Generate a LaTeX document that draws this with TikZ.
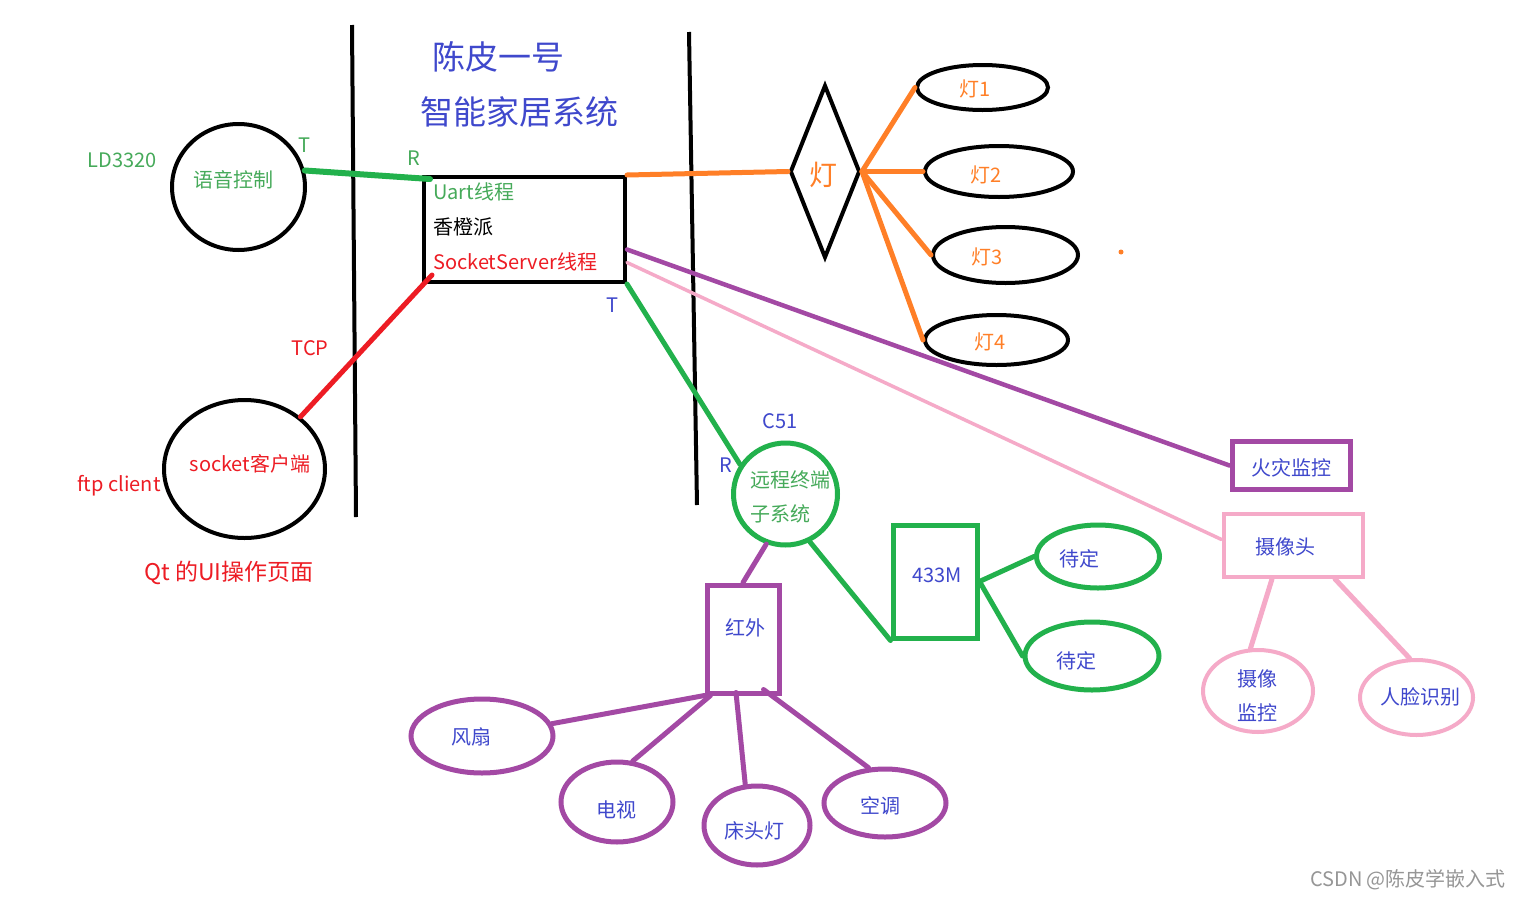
\documentclass[tikz,border=0pt]{standalone}
\usepackage{fontspec}
\setmainfont{Noto Sans CJK SC}
\usetikzlibrary{shapes.geometric}
\definecolor{pgreen}{RGB}{34,177,76}
\definecolor{tgreen}{RGB}{70,170,90}
\definecolor{pblue}{RGB}{63,72,204}
\definecolor{porange}{RGB}{255,127,39}
\definecolor{pred}{RGB}{237,28,36}
\definecolor{ppurple}{RGB}{163,73,164}
\definecolor{ppink}{RGB}{245,170,200}
\definecolor{wgray}{RGB}{150,150,150}
\begin{document}
\begin{tikzpicture}[x=1pt,y=-1pt,
  txt/.style={inner sep=0pt, font=\fontsize{20}{24}\selectfont},
  bigtxt/.style={inner sep=0pt, font=\fontsize{33}{36}\selectfont, text=pblue},
  shp/.style={draw, inner sep=0pt, line width=#1},
  shp/.default=4pt,
  oval/.style={shp=#1, ellipse},
  oval/.default=4pt,
  box/.style={shp=#1, rectangle},
  box/.default=4pt,
  wire/.style={line width=5pt, line cap=round},
]
\fill[white] (0,0) rectangle (1519,900);
\useasboundingbox (0,0) rectangle (1519,900);

% separators
\draw[line width=4pt] (352,25) -- (356,517);
\draw[line width=4pt] (689,32) -- (697,505);

% title
\node[bigtxt] (title1) at (498,57) {陈皮一号};
\node[bigtxt] (title2) at (519,112) {智能家居系统};

% voice control
\node[oval, minimum width=133pt, minimum height=126pt] (voice) at (238.5,187) {};
\node[txt, text=tgreen] (voicet) at (233,180) {语音控制};
\node[txt, text=tgreen] (ld) at (122,160) {LD3320};
\node[txt, text=tgreen] (tlab) at (304,145) {T};
\node[txt, text=tgreen] (rlab) at (414,158) {R};

% orange pi box
\node[box, minimum width=201pt, minimum height=105pt] (pi) at (524.5,229.5) {};
\node[txt, text=tgreen, anchor=west] (uart) at (433,192) {Uart线程};
\node[txt, anchor=west] (opi) at (433,227) {香橙派};
\node[txt, text=pred, anchor=west] (sock) at (433,262) {SocketServer线程};

% client
\node[oval, minimum width=161pt, minimum height=138pt] (client) at (244.5,469) {};
\node[txt, text=pred] (clientt) at (250,464) {socket客户端};
\node[txt, text=pred] (ftp) at (119,486) {ftp client};
\node[txt, text=pred] (tcp) at (310,348) {TCP};
\node[txt, text=pred, font=\fontsize{23}{26}\selectfont] (qt) at (229,573) {Qt 的UI操作页面};

% lamps
\node[diamond, draw, line width=4pt, inner sep=0pt, minimum width=70pt, minimum height=173pt] (lamp) at (825,171.5) {};
\node[txt, text=porange, font=\fontsize{28}{30}\selectfont] (lampt) at (823,175) {灯};
\node[oval, minimum width=131pt, minimum height=45pt] (l1) at (982.5,87.5) {};
\node[oval, minimum width=148pt, minimum height=51pt] (l2) at (999,171.5) {};
\node[oval, minimum width=145pt, minimum height=56pt] (l3) at (1005.5,255) {};
\node[oval, minimum width=143pt, minimum height=50pt] (l4) at (996.5,340) {};
\node[txt, text=porange] (l1t) at (975,89) {灯1};
\node[txt, text=porange] (l2t) at (986,175) {灯2};
\node[txt, text=porange] (l3t) at (987,257) {灯3};
\node[txt, text=porange] (l4t) at (990,342) {灯4};
\fill[porange] (1121,252) circle (2.5pt);

% fire and camera
\node[box=5pt, draw=ppurple, minimum width=118pt, minimum height=48pt] (fire) at (1291,465.5) {};
\node[txt, text=pblue] (firet) at (1291,468) {火灾监控};
\node[box, draw=ppink, minimum width=139pt, minimum height=63pt] (cam) at (1293,545.5) {};
\node[txt, text=pblue] (camt) at (1285,547) {摄像头};
\node[oval, draw=ppink, minimum width=110pt, minimum height=82pt] (cam1) at (1258,691) {};
\node[txt, text=pblue] (cam1a) at (1257,679) {摄像};
\node[txt, text=pblue] (cam1b) at (1257,713) {监控};
\node[oval, draw=ppink, minimum width=113pt, minimum height=75pt] (face) at (1416.5,697.5) {};
\node[txt, text=pblue] (facet) at (1420,697) {人脸识别};

% C51 remote terminal
\node[oval=5pt, draw=pgreen, minimum width=104pt, minimum height=102pt] (c51) at (785.5,494) {};
\node[txt, text=tgreen] (c51a) at (790,480) {远程终端};
\node[txt, text=tgreen] (c51b) at (780,514) {子系统};
\node[txt, text=pblue] (c51l) at (780,421) {C51};
\node[txt, text=pblue] (rlab2) at (726,465) {R};
\node[txt, text=pblue] (tlab2) at (612,305) {T};

% infrared
\node[box=5pt, draw=ppurple, minimum width=72pt, minimum height=108pt] (ir) at (743,639) {};
\node[txt, text=pblue] (irt) at (745,628) {红外};
\node[oval=5pt, draw=ppurple, minimum width=142pt, minimum height=74pt] (fan) at (482,736) {};
\node[txt, text=pblue] (fant) at (471,737) {风扇};
\node[oval=5pt, draw=ppurple, minimum width=112pt, minimum height=80pt] (tv) at (617,802) {};
\node[txt, text=pblue] (tvt) at (616,810) {电视};
\node[oval=5pt, draw=ppurple, minimum width=106pt, minimum height=79pt] (bed) at (757,825.5) {};
\node[txt, text=pblue] (bedt) at (754,831) {床头灯};
\node[oval=5pt, draw=ppurple, minimum width=122pt, minimum height=68pt] (ac) at (885,803) {};
\node[txt, text=pblue] (act) at (880,806) {空调};

% 433M
\node[box=5pt, draw=pgreen, minimum width=84pt, minimum height=113pt] (m433) at (935,581.5) {};
\node[txt, text=pblue] (m433t) at (937,575) {433M};
\node[oval=5pt, draw=pgreen, minimum width=123pt, minimum height=63pt] (td1) at (1098,556.5) {};
\node[txt, text=pblue] (td1t) at (1079,559) {待定};
\node[oval=5pt, draw=pgreen, minimum width=134pt, minimum height=68pt] (td2) at (1092,656) {};
\node[txt, text=pblue] (td2t) at (1076,661) {待定};

% watermark
\node[txt, text=wgray] (wm) at (1408,880) {CSDN @陈皮学嵌入式};

% connectors
\draw[wire, pgreen, line width=6pt] (voice.14) -- ([xshift=8pt,yshift=-4pt]pi.north west);
\draw[wire, pred] ([xshift=10pt,yshift=9pt]pi.south west) -- (client.43);
\draw[wire, porange] (pi.north east) -- (lamp.west);
\foreach \i in {1,2,3,4} \draw[wire, porange] (lamp.east) -- (l\i.west);
\draw[wire, ppurple, line width=4.5pt] ([yshift=-20pt]pi.east) -- (fire.west);
\draw[wire, ppink, line width=3.5pt] ([yshift=-33pt]pi.east) -- ([yshift=6pt]cam.west);
\draw[wire, ppink] ([xshift=-21pt]cam.south) -- (cam1.100);
\draw[wire, ppink] ([xshift=42pt]cam.south) -- (face.100);
\draw[wire, pgreen] (pi.south east) -- (c51.147);
\draw[wire, ppurple] (c51.-111) -- (ir.north);
\draw[wire, pgreen] (c51.-63) -- (m433.south west);
\draw[wire, pgreen] (m433.east) -- (td1.west);
\draw[wire, pgreen] (m433.east) -- (td2.west);
\draw[wire, ppurple] (ir.south west) -- (fan.10);
\draw[wire, ppurple] ([xshift=6pt]ir.south west) -- (tv.69);
\draw[wire, ppurple] ([xshift=-7pt,yshift=3pt]ir.south) -- (bed.106);
\draw[wire, ppurple] ([xshift=-18pt,yshift=6pt]ir.south east) -- (ac.115);
\end{tikzpicture}
\end{document}
